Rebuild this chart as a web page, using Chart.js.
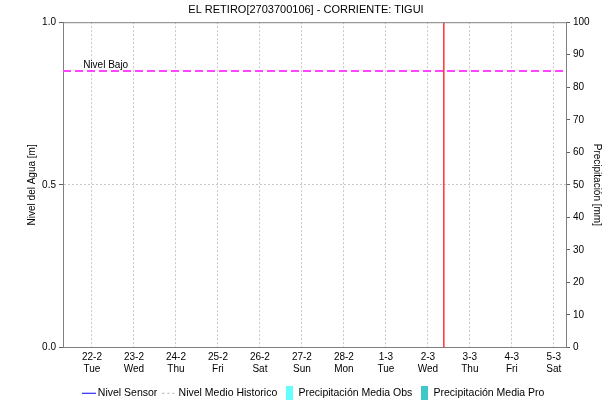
<!DOCTYPE html>
<html>
<head>
<meta charset="utf-8">
<script src="https://cdn.jsdelivr.net/npm/chart.js@4.4.1/dist/chart.umd.min.js"></script>
<style>
  html, body { margin: 0; padding: 0; background: #fff; }
  #wrap { width: 612px; height: 402px; }
</style>
</head>
<body>
<div id="wrap"><canvas id="chart" width="612" height="402"></canvas></div>
<script>
// --- datos del grafico ---
const titulo = 'EL RETIRO[2703700106] - CORRIENTE: TIGUI';
const dayLabels = ['22-2', '23-2', '24-2', '25-2', '26-2', '27-2', '28-2', '1-3', '2-3', '3-3', '4-3', '5-3'];
const weekdayLabels = ['Tue', 'Wed', 'Thu', 'Fri', 'Sat', 'Sun', 'Mon', 'Tue', 'Wed', 'Thu', 'Fri', 'Sat'];
const nivelSensor = [];            // sin lecturas en la ventana
const nivelMedioHistorico = [];    // sin datos
const precipObs = [0, 0, 0, 0, 0, 0, 0, 0, 0, 0, 0, 0];
const precipPro = [0, 0, 0, 0, 0, 0, 0, 0, 0, 0, 0, 0];
const nivelTicks = [0, 0.5, 1];
const precipTicks = [0, 10, 20, 30, 40, 50, 60, 70, 80, 90, 100];
const nivelBajo = 0.85;
const horaActual = 8.38;           // 2-3 ~9am, en dias desde 22-2
const xMin = -0.69, xMax = 11.29;

Chart.defaults.font.family = '"Liberation Sans", Arial, sans-serif';
Chart.defaults.font.size = 10;
Chart.defaults.color = '#000';

// muestras para la leyenda
function swatch(kind, color) {
  const c = document.createElement('canvas');
  c.width = kind === 'rect' ? 7 : 14;
  c.height = 14;
  const g = c.getContext('2d');
  if (kind === 'rect') {
    g.fillStyle = color;
    g.fillRect(0, 0, 7, 14);
  } else {
    g.strokeStyle = color;
    g.lineWidth = 1;
    if (kind === 'dot') g.setLineDash([2, 3]);
    g.beginPath(); g.moveTo(0, 7.5); g.lineTo(14, 7.5); g.stroke();
  }
  return c;
}

const frame = {
  id: 'frame',
  afterDatasetsDraw(chart) {
    const { ctx, chartArea: a, scales } = chart;
    ctx.save();
    ctx.strokeStyle = '#808080';
    ctx.lineWidth = 1;
    ctx.beginPath();
    ctx.moveTo(a.left, a.top + 0.5);
    ctx.lineTo(a.right, a.top + 0.5);
    ctx.stroke();
    ctx.font = '10px "Liberation Sans", Arial, sans-serif';
    ctx.fillStyle = '#000';
    ctx.textBaseline = 'bottom';
    ctx.fillText('Nivel Bajo', scales.x.getPixelForValue(-0.21), scales.y.getPixelForValue(nivelBajo) - 1);
    ctx.restore();
  }
};

const legendItems = [
  { text: 'Nivel Sensor', pointStyle: swatch('line', '#0000ff') },
  { text: 'Nivel Medio Historico', pointStyle: swatch('dot', '#b0b0b0') },
  { text: 'Precipitación Media Obs', pointStyle: swatch('rect', '#66ffff') },
  { text: 'Precipitación Media Pro', pointStyle: swatch('rect', '#40c8c8') }
];

new Chart(document.getElementById('chart'), {
  type: 'line',
  data: {
    datasets: [
      { label: 'Nivel Sensor', data: nivelSensor, borderColor: '#0000ff', borderWidth: 1, pointRadius: 0, yAxisID: 'y' },
      { label: 'Nivel Medio Historico', data: nivelMedioHistorico, borderColor: '#b0b0b0', borderDash: [2, 3], borderWidth: 1, pointRadius: 0, yAxisID: 'y' },
      { type: 'bar', label: 'Precipitación Media Obs', data: precipObs.map((v, i) => ({ x: i, y: v })), backgroundColor: '#66ffff', yAxisID: 'y1' },
      { type: 'bar', label: 'Precipitación Media Pro', data: precipPro.map((v, i) => ({ x: i, y: v })), backgroundColor: '#40c8c8', yAxisID: 'y1' },
      { label: 'Nivel Bajo', data: [{ x: xMin, y: nivelBajo }, { x: xMax, y: nivelBajo }], borderColor: '#ff44ff', borderWidth: 2, borderDash: [8, 4], pointRadius: 0, yAxisID: 'y' },
      { label: 'Ahora', data: [{ x: horaActual, y: 0 }, { x: horaActual, y: 1 }], borderColor: '#ff3333', borderWidth: 1.5, pointRadius: 0, yAxisID: 'y' }
    ]
  },
  options: {
    responsive: false,
    animation: false,
    layout: { padding: { top: 0, left: 0, right: 0, bottom: -6 } },
    plugins: {
      title: { display: true, text: titulo, font: { size: 11, weight: 'normal' }, color: '#000', padding: { top: 3, bottom: 6 } },
      tooltip: { enabled: false },
      legend: {
        position: 'bottom',
        fullSize: false,
        labels: {
          usePointStyle: true,
          pointStyleWidth: 8,
          padding: 8,
          font: { size: 10.5 },
          color: '#000',
          generateLabels: () => legendItems.map(it => ({ text: it.text, pointStyle: it.pointStyle, fontColor: '#000', lineWidth: 0, hidden: false }))
        }
      }
    },
    scales: {
      x: {
        type: 'linear',
        min: xMin,
        max: xMax,
        offset: false,
        afterBuildTicks: s => { s.ticks = dayLabels.map((_, i) => ({ value: i })); },
        afterFit: s => { s.height = 32; },
        ticks: { autoSkip: false, maxRotation: 0, padding: 4, callback: v => [dayLabels[v], weekdayLabels[v]] },
        grid: { color: '#c8c8c8', drawTicks: false, offset: false },
        border: { color: '#808080', dash: [2, 2] }
      },
      y: {
        position: 'left',
        min: 0,
        max: 1,
        afterBuildTicks: s => { s.ticks = nivelTicks.map(v => ({ value: v })); },
        afterFit: s => { s.width = 63; },
        ticks: { padding: 3, callback: v => v.toFixed(1) },
        grid: {
          color: c => c.tick && c.tick.value === 0 ? '#404040' : (c.tick && c.tick.value === 0.5 ? '#c8c8c8' : 'rgba(0,0,0,0)'),
          tickColor: '#606060', tickLength: 4, tickBorderDash: []
        },
        border: { color: '#808080', dash: [2, 2] },
        title: { display: true, text: 'Nivel del Agua [m]', padding: 26, font: { size: 10 } }
      },
      y1: {
        position: 'right',
        min: 0,
        max: 100,
        afterBuildTicks: s => { s.ticks = precipTicks.map(v => ({ value: v })); },
        afterFit: s => { s.width = 46; },
        ticks: { padding: 3 },
        grid: { drawOnChartArea: false, tickColor: '#606060', tickLength: 4 },
        border: { color: '#808080' },
        title: { display: true, text: 'Precipitación [mm]', padding: 9, font: { size: 10 } }
      }
    }
  },
  plugins: [frame]
});
</script>
</body>
</html>
